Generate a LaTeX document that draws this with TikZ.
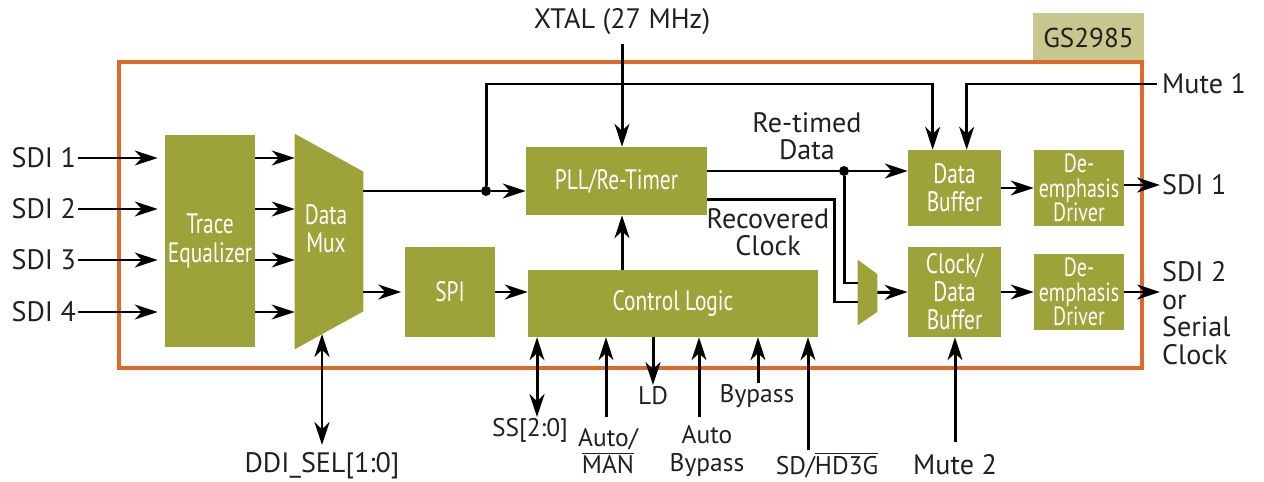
\documentclass[tikz,border=0pt]{standalone}
\usepackage{fontspec}
\setmainfont{PT Sans}
\newfontfamily\blockfont[FakeStretch=0.76]{PT Sans}
\usetikzlibrary{arrows.meta,positioning}
\definecolor{gsolive}{RGB}{157,163,57}
\definecolor{gsorange}{RGB}{224,105,42}
\definecolor{gskhaki}{RGB}{200,200,142}
\definecolor{gstext}{RGB}{35,31,32}

\tikzset{
  block/.style={fill=gsolive,text=white,font=\blockfont\fontsize{16}{16}\selectfont,align=center,inner sep=0pt},
  drvblock/.style={block,minimum width=1.8cm,minimum height=1.52cm,font=\blockfont\fontsize{15}{14}\selectfont},
  sig/.style={text=gstext,font=\fontsize{16}{15.5}\selectfont,align=center,inner sep=1pt},
  ctlsig/.style={sig,font=\fontsize{14.5}{15.5}\selectfont},
  wire/.style={line width=1.7pt},
  arr/.style={wire,-{Stealth[length=13pt,width=8.5pt,inset=4pt]}},
  dblarr/.style={wire,{Stealth[length=13pt,width=8.5pt,inset=4pt]}-{Stealth[length=13pt,width=8.5pt,inset=4pt]}},
  dot/.style={circle,fill=black,inner sep=0pt,minimum size=0.2cm},
}

\begin{document}
\begin{tikzpicture}[x=0.02cm,y=-0.02cm]
  \useasboundingbox (0,0) rectangle (1264,482);
  % chip outline
  \node[fill=gskhaki,text=gstext,minimum width=2.22cm,minimum height=0.98cm,inner sep=0pt,font=\fontsize{15.5}{15}\selectfont] (chip) at (1088.5,37.5) {GS2985};
  \draw[gsorange,line width=2.8pt] (119,62) rectangle (1142,368);

  % blocks
  \node[block,minimum width=1.8cm,minimum height=4.24cm] (te) at (210,241) {Trace\\Equalizer};
  \node[block,minimum width=1.8cm,minimum height=1.8cm] (spi) at (450,292) {SPI};
  \node[block,minimum width=3.62cm,minimum height=1.36cm] (pll) at (616.5,181) {PLL/Re-Timer};
  \node[block,minimum width=5.8cm,minimum height=1.34cm] (ctl) at (673,303.5) {Control Logic};
  \node[block,minimum width=1.86cm,minimum height=1.52cm] (dbuf) at (954.5,188) {Data\\Buffer};
  \node[block,minimum width=1.86cm,minimum height=1.8cm] (cdbuf) at (954.5,292) {Clock/\\Data\\Buffer};
  \node[drvblock] (drv1) at (1079,188) {De-\\emphasis\\Driver};
  \node[drvblock] (drv2) at (1079,292) {De-\\emphasis\\Driver};

  % muxes
  \node[minimum width=1.36cm,minimum height=4.3cm,inner sep=0pt] (mux) at (329,241.5) {};
  \fill[gsolive] (mux.north west) -- ([yshift=-0.76cm]mux.north east) -- ([yshift=0.76cm]mux.south east) -- (mux.south west) -- cycle;
  \node[block,fill=none] (muxtxt) at (326,229) {Data\\Mux};
  \node[minimum width=0.38cm,minimum height=1.3cm,inner sep=0pt] (smux) at (867.5,292.5) {};
  \fill[gsolive] (smux.north west) -- ([yshift=-0.29cm]smux.north east) -- ([yshift=0.27cm]smux.south east) -- (smux.south west) -- cycle;
  \coordinate (smuxa) at (858,283);
  \coordinate (smuxb) at (858,302);
  \coordinate (rcb) at (834,302);
  \coordinate (muxb) at (322,334);

  % inputs
  \node[sig,anchor=east] (sdi1) at (78,158) {SDI 1};
  \node[sig,anchor=east] (sdi2) at (78,209) {SDI 2};
  \node[sig,anchor=east] (sdi3) at (78,260) {SDI 3};
  \node[sig,anchor=east] (sdi4) at (78,312) {SDI 4};
  \draw[arr,shorten >=4pt] (sdi1) -- (te.west |- sdi1);
  \draw[arr,shorten >=4pt] (sdi2) -- (te.west |- sdi2);
  \draw[arr,shorten >=4pt] (sdi3) -- (te.west |- sdi3);
  \draw[arr,shorten >=4pt] (sdi4) -- (te.west |- sdi4);
  \draw[arr] (te.east |- sdi1) -- (mux.west |- sdi1);
  \draw[arr] (te.east |- sdi2) -- (mux.west |- sdi2);
  \draw[arr] (te.east |- sdi3) -- (mux.west |- sdi3);
  \draw[arr] (te.east |- sdi4) -- (mux.west |- sdi4);

  % mux outputs
  \node[dot] (j1) at (486,191) {};
  \draw[wire] (mux.east |- j1) -- (j1);
  \draw[arr] (j1) -- (pll.west |- j1);
  \draw[arr,shorten >=2pt] (mux.east |- spi) -- (spi.west);
  \draw[arr] (spi.east) -- (ctl.west |- spi.east);

  % clock
  \node[sig] (xtal) at (622,22) {XTAL (27 MHz)};
  \draw[arr,shorten <=4pt] (xtal.south) -- (xtal.south |- pll.north);
  \draw[arr] (ctl.north -| xtal.south) -- (pll.south -| xtal.south);

  % mute 1 and bypass path
  \node[sig,anchor=west] (m1) at (1160,84) {Mute 1};
  \draw[arr,shorten <=2pt] (m1.west) -| ([xshift=1.18cm]dbuf.north west);
  \draw[arr] (j1) -- (j1 |- m1) -| ([xshift=0.5cm]dbuf.north west);

  % re-timed data / recovered clock
  \node[dot] (j2) at (844,171) {};
  \draw[wire] (pll.east |- j2) -- (j2);
  \draw[arr] (j2) -- (dbuf.west |- j2);
  \draw[wire] (j2) |- (smuxa);
  \draw[wire] ([yshift=-0.38cm]pll.east) -| (rcb) -- (smuxb);
  \draw[arr] (smux.east) -- (cdbuf.west);
  \node[sig] (rtd) at (807,136) {Re-timed\\Data};
  \node[sig] (rcl) at (768,232) {Recovered\\Clock};

  % outputs
  \draw[arr] (dbuf.east) -- (drv1.west);
  \draw[arr] (cdbuf.east) -- (drv2.west);
  \node[sig,anchor=west] (o1) at (1160,185) {SDI 1};
  \draw[arr] (drv1.east |- o1) -- (o1.west);
  \node[sig,anchor=north west,align=left,font=\fontsize{16}{15.9}\selectfont] (o2) at (1160,259) {SDI 2\\or\\Serial\\Clock};
  \draw[arr] (drv2.east) -- (o2.west |- drv2.east);

  % mute 2
  \node[sig] (m2) at (955,465) {Mute 2};
  \coordinate (m2p) at (955,442);
  \draw[arr] (m2p) -- (m2p |- cdbuf.south);

  % mux select
  \node[sig] (ddi) at (322,466) {DDI\_SEL[1:0]};
  \coordinate (ddip) at (322,445);
  \draw[dblarr] (ddip) -- (muxb);

  % control pins
  \coordinate (ssp) at (537,417);
  \coordinate (amp) at (606,417);
  \coordinate (ldp) at (653,385);
  \coordinate (abp) at (699,417);
  \coordinate (bpp) at (758,383);
  \coordinate (sdp) at (808,450);
  \draw[dblarr] (ssp) -- (ssp |- ctl.south);
  \draw[arr] (amp) -- (amp |- ctl.south);
  \draw[arr] (ldp |- ctl.south) -- (ldp);
  \draw[arr] (abp) -- (abp |- ctl.south);
  \draw[arr] (bpp) -- (bpp |- ctl.south);
  \draw[arr] (sdp) -- (sdp |- ctl.south);
  \node[ctlsig] (ss) at (530,430) {SS[2:0]};
  \node[ctlsig] (am) at (608,451) {Auto/\\$\overline{\mbox{MAN}}$};
  \node[ctlsig] (ld) at (653,396) {LD};
  \node[ctlsig] (ab) at (707,451) {Auto\\Bypass};
  \node[ctlsig] (bp) at (757,396) {Bypass};
  \node[ctlsig] (sd) at (827,465) {SD/$\overline{\mbox{HD3G}}$};
\end{tikzpicture}
\end{document}
